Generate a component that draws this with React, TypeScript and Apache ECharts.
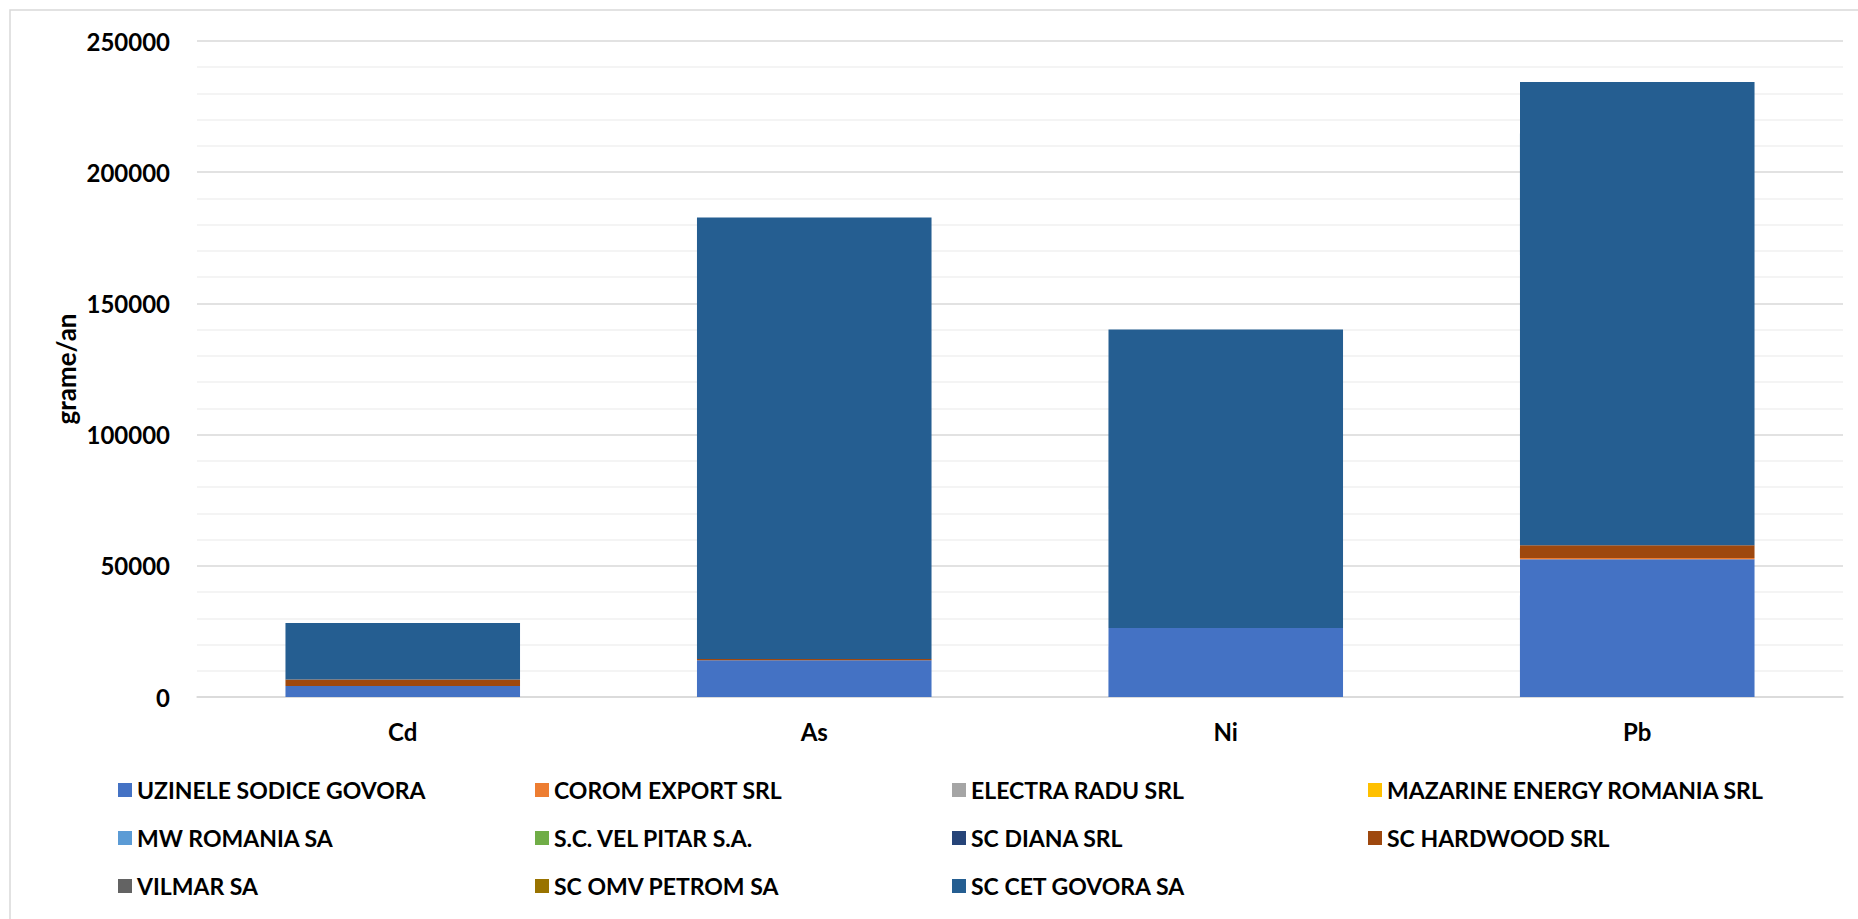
import React, { useEffect, useRef } from "react";
import * as echarts from "echarts";

const categories = ["Cd", "As", "Ni", "Pb"];
const seriesNames = [
  "UZINELE SODICE GOVORA",
  "COROM EXPORT SRL",
  "ELECTRA RADU SRL",
  "MAZARINE ENERGY ROMANIA SRL",
  "MW ROMANIA SA",
  "S.C. VEL PITAR S.A.",
  "SC DIANA SRL",
  "SC HARDWOOD SRL",
  "VILMAR SA",
  "SC OMV PETROM SA",
  "SC CET GOVORA SA",
];
const uzineleSodiceGovora = [4200, 14000, 26300, 52500];
const coromExport = [0, 0, 0, 500];
const electraRadu = [0, 0, 0, 0];
const mazarineEnergy = [0, 0, 0, 0];
const mwRomania = [0, 0, 0, 0];
const velPitar = [0, 0, 0, 0];
const scDiana = [0, 0, 0, 0];
const scHardwood = [2450, 500, 0, 4800];
const vilmar = [0, 0, 0, 0];
const omvPetrom = [0, 0, 0, 0];
const cetGovora = [21570, 168200, 113800, 176600];
const seriesValues = [
  uzineleSodiceGovora,
  coromExport,
  electraRadu,
  mazarineEnergy,
  mwRomania,
  velPitar,
  scDiana,
  scHardwood,
  vilmar,
  omvPetrom,
  cetGovora,
];
const colors = [
  "#4472C4",
  "#ED7D31",
  "#A5A5A5",
  "#FFC000",
  "#5B9BD5",
  "#70AD47",
  "#264478",
  "#9E480E",
  "#636363",
  "#997300",
  "#255E91",
];
const yTicks = [0, 50000, 100000, 150000, 200000, 250000];
const yTitle = "grame/an";

const FONT = "Lato, 'DejaVu Sans', sans-serif";

export default function App() {
  const ref = useRef<HTMLDivElement>(null);
  useEffect(() => {
    if (!ref.current) return;
    const chart = echarts.init(ref.current, undefined, { renderer: "svg" });
    const colX = [118, 535, 952, 1368];
    const rowY = [790, 838, 886];
    const legends = seriesNames.map((name, i) => ({
      data: [name],
      left: colX[i % 4],
      top: rowY[Math.floor(i / 4)] - 13,
      padding: 0,
      icon: "rect",
      itemWidth: 14,
      itemHeight: 14,
      itemGap: 0,
      selectedMode: false,
      textStyle: {
        fontFamily: FONT,
        fontWeight: "bold",
        fontSize: 23,
        color: "#000",
        lineHeight: 26,
      },
    }));
    chart.setOption({
      animation: false,
      backgroundColor: "#fff",
      color: colors,
      graphic: [
        {
          type: "rect",
          shape: { x: 10, y: 10, width: 1900, height: 960 },
          style: { fill: "none", stroke: "#d9d9d9", lineWidth: 1.5 },
          silent: true,
        },
        {
          type: "text",
          x: 66,
          y: 369,
          rotation: Math.PI / 2,
          silent: true,
          style: {
            text: yTitle,
            align: "center",
            verticalAlign: "middle",
            fontFamily: FONT,
            fontWeight: "bold",
            fontSize: 26,
            fill: "#000",
          },
        },
      ],
      legend: legends,
      grid: { left: 197, right: 15, top: 41, bottom: 222, containLabel: false },
      xAxis: {
        type: "category",
        data: categories,
        axisLine: { lineStyle: { color: "#d9d9d9", width: 1.5 } },
        axisTick: { show: false },
        axisLabel: {
          fontFamily: FONT,
          fontWeight: "bold",
          fontSize: 24,
          color: "#000",
          margin: 22,
        },
      },
      yAxis: {
        type: "value",
        min: yTicks[0],
        max: yTicks[yTicks.length - 1],
        interval: 50000,
        axisLine: { show: false },
        axisTick: { show: false },
        axisLabel: {
          fontFamily: FONT,
          fontWeight: "bold",
          fontSize: 24,
          color: "#000",
          margin: 27,
          formatter: (v: number) => String(v),
        },
        splitLine: { show: true, lineStyle: { color: "#d9d9d9", width: 1.5 } },
        minorTick: { show: false, splitNumber: 5 },
        minorSplitLine: { show: true, lineStyle: { color: "#f0f0f0", width: 1.5 } },
      },
      series: seriesNames.map((name, i) => ({
        name,
        type: "bar",
        stack: "total",
        barWidth: "57%",
        data: seriesValues[i],
        itemStyle: { color: colors[i] },
      })),
    });
    return () => chart.dispose();
  }, []);
  return (
    <div
      ref={ref}
      style={{ position: "fixed", left: 0, top: 0, width: 1858, height: 919 }}
    />
  );
}
